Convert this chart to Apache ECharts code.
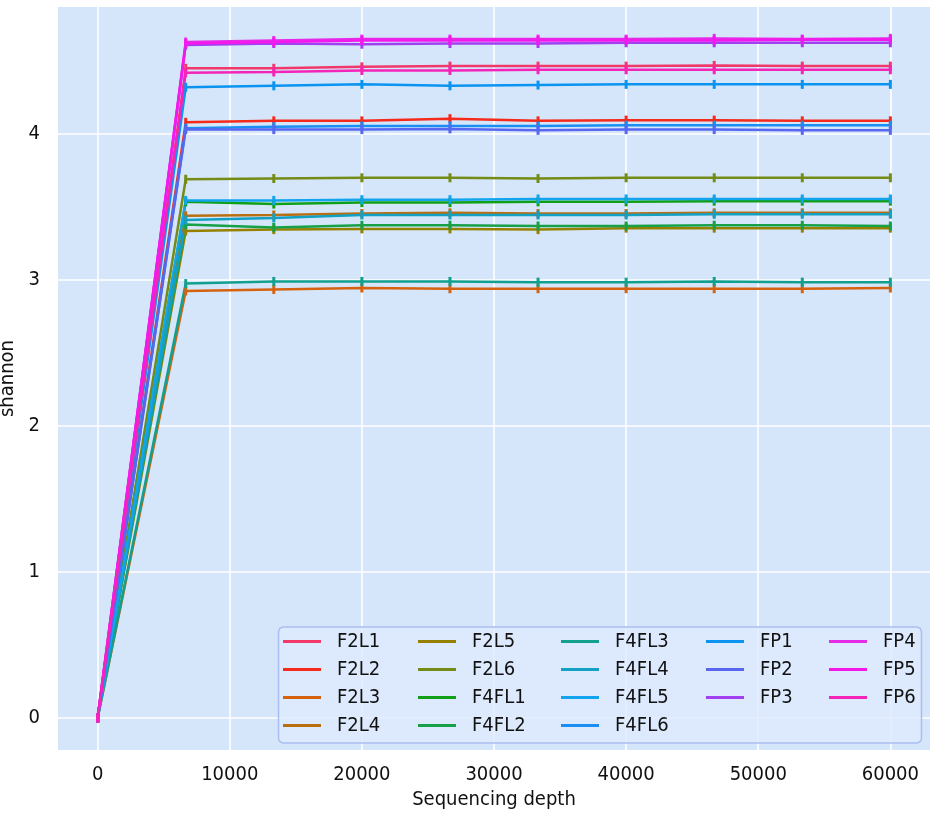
<!DOCTYPE html>
<html>
<head>
<meta charset="utf-8">
<script src="https://cdn.jsdelivr.net/npm/echarts@6/dist/echarts.min.js"></script>
<style>html,body{margin:0;padding:0;background:#fff}#c{width:935px;height:815px}</style>
</head>
<body>
<div id="c"></div>
<script>
const depths = [0, 6667, 13333, 20000, 26667, 33333, 40000, 46667, 53333, 60000];
const xTicks = [0, 10000, 20000, 30000, 40000, 50000, 60000];
const yTicks = [0, 1, 2, 3, 4];

const F2L1  = [0, 4.450, 4.450, 4.460, 4.465, 4.465, 4.465, 4.470, 4.465, 4.465];
const F2L2  = [0, 4.080, 4.090, 4.090, 4.105, 4.090, 4.095, 4.095, 4.090, 4.090];
const F2L3  = [0, 2.925, 2.935, 2.945, 2.940, 2.940, 2.940, 2.940, 2.940, 2.945];
const F2L4  = [0, 3.440, 3.445, 3.455, 3.460, 3.455, 3.455, 3.460, 3.460, 3.460];
const F2L5  = [0, 3.335, 3.345, 3.350, 3.350, 3.345, 3.355, 3.355, 3.355, 3.355];
const F2L6  = [0, 3.690, 3.695, 3.700, 3.700, 3.695, 3.700, 3.700, 3.700, 3.700];
const F4FL1 = [0, 3.535, 3.520, 3.530, 3.530, 3.535, 3.535, 3.540, 3.540, 3.540];
const F4FL2 = [0, 3.380, 3.360, 3.375, 3.375, 3.370, 3.370, 3.375, 3.375, 3.370];
const F4FL3 = [0, 2.975, 2.990, 2.990, 2.990, 2.985, 2.985, 2.990, 2.985, 2.985];
const F4FL4 = [0, 3.410, 3.425, 3.445, 3.445, 3.445, 3.445, 3.450, 3.450, 3.450];
const F4FL5 = [0, 3.545, 3.545, 3.550, 3.550, 3.555, 3.555, 3.555, 3.555, 3.555];
const F4FL6 = [0, 4.040, 4.050, 4.055, 4.055, 4.055, 4.060, 4.060, 4.060, 4.060];
const FP1   = [0, 4.320, 4.330, 4.340, 4.330, 4.335, 4.340, 4.340, 4.340, 4.340];
const FP2   = [0, 4.030, 4.030, 4.030, 4.035, 4.025, 4.030, 4.030, 4.025, 4.025];
const FP3   = [0, 4.610, 4.620, 4.615, 4.620, 4.620, 4.625, 4.625, 4.625, 4.625];
const FP4   = [0, 4.630, 4.640, 4.650, 4.650, 4.650, 4.650, 4.655, 4.650, 4.655];
const FP5   = [0, 4.620, 4.630, 4.640, 4.640, 4.640, 4.640, 4.640, 4.645, 4.645];
const FP6   = [0, 4.420, 4.425, 4.435, 4.435, 4.440, 4.440, 4.440, 4.440, 4.440];

const names = ['F2L1','F2L2','F2L3','F2L4','F2L5','F2L6','F4FL1','F4FL2','F4FL3','F4FL4','F4FL5','F4FL6','FP1','FP2','FP3','FP4','FP5','FP6'];
const values = [F2L1,F2L2,F2L3,F2L4,F2L5,F2L6,F4FL1,F4FL2,F4FL3,F4FL4,F4FL5,F4FL6,FP1,FP2,FP3,FP4,FP5,FP6];
const colors = ['#f2386a','#f52a1a','#d5620e','#b86f12','#968000','#748c16','#10a018','#16a048','#11a08e','#12a0c4','#12a4ee','#1a8ef2','#0a94f0','#5866f0','#a040f0','#e42ce8','#f518ec','#f524b8'];
const legendColumns = [names.slice(0, 4), names.slice(4, 8), names.slice(8, 12), names.slice(12, 15), names.slice(15, 18)];

const FONT = "'DejaVu Sans Condensed', 'Noto Sans', sans-serif";
const TXT = '#111111';

const series = names.map((n, i) => ({
  name: n,
  type: 'line',
  data: depths.map((d, j) => [d, values[i][j]]),
  symbol: 'rect',
  symbolSize: [3, 9],
  showSymbol: true,
  lineStyle: { width: 2.5, color: colors[i] },
  itemStyle: { color: colors[i] },
  color: colors[i],
  animation: false
}));

const colLefts = [283, 418, 561, 706, 829];
const legends = colLefts.map((l, c) => ({
  orient: 'vertical',
  left: l,
  top: 631.5,
  padding: 0,
  itemGap: 8,
  itemWidth: 38,
  itemHeight: 3,
  icon: 'rect',
  selectedMode: false,
  data: legendColumns[c],
  textStyle: { fontFamily: FONT, fontSize: 20, color: TXT, lineHeight: 20, padding: [0, 0, 0, 11] },
  z: 20
}));

const chart = echarts.init(document.getElementById('c'));
chart.setOption({
  animation: false,
  backgroundColor: '#ffffff',
  grid: { left: 58, right: 5, top: 7, bottom: 65, show: true, backgroundColor: '#d6e6fa', borderWidth: 0, containLabel: false, outerBoundsMode: 'none' },
  xAxis: {
    type: 'value', min: -3000, max: 63000,
    name: 'Sequencing depth', nameLocation: 'middle', nameGap: 40,
    nameTextStyle: { fontFamily: FONT, fontSize: 20, color: TXT },
    axisLine: { show: false },
    axisTick: { show: false, customValues: xTicks },
    axisLabel: { customValues: xTicks, fontFamily: FONT, fontSize: 20, color: TXT, margin: 15, formatter: v => String(v) },
    splitLine: { show: true, lineStyle: { color: '#ffffff', width: 1.6 } }
  },
  yAxis: {
    type: 'value', min: -0.22, max: 4.87,
    name: 'shannon', nameLocation: 'middle', nameGap: 36, nameRotate: 90,
    nameTextStyle: { fontFamily: FONT, fontSize: 20, color: TXT },
    axisLine: { show: false },
    axisTick: { show: false, customValues: yTicks },
    axisLabel: { customValues: yTicks, fontFamily: FONT, fontSize: 20, color: TXT, margin: 18, formatter: v => String(v) },
    splitLine: { show: true, lineStyle: { color: '#ffffff', width: 1.6 } }
  },
  legend: legends,
  graphic: [{
    type: 'rect',
    shape: { x: 278.5, y: 627, width: 643, height: 116, r: 5 },
    style: { fill: 'rgba(222,234,252,0.8)', stroke: '#aabdf2', lineWidth: 1.5 },
    z: 15
  }],
  series: series
});
</script>
</body>
</html>
